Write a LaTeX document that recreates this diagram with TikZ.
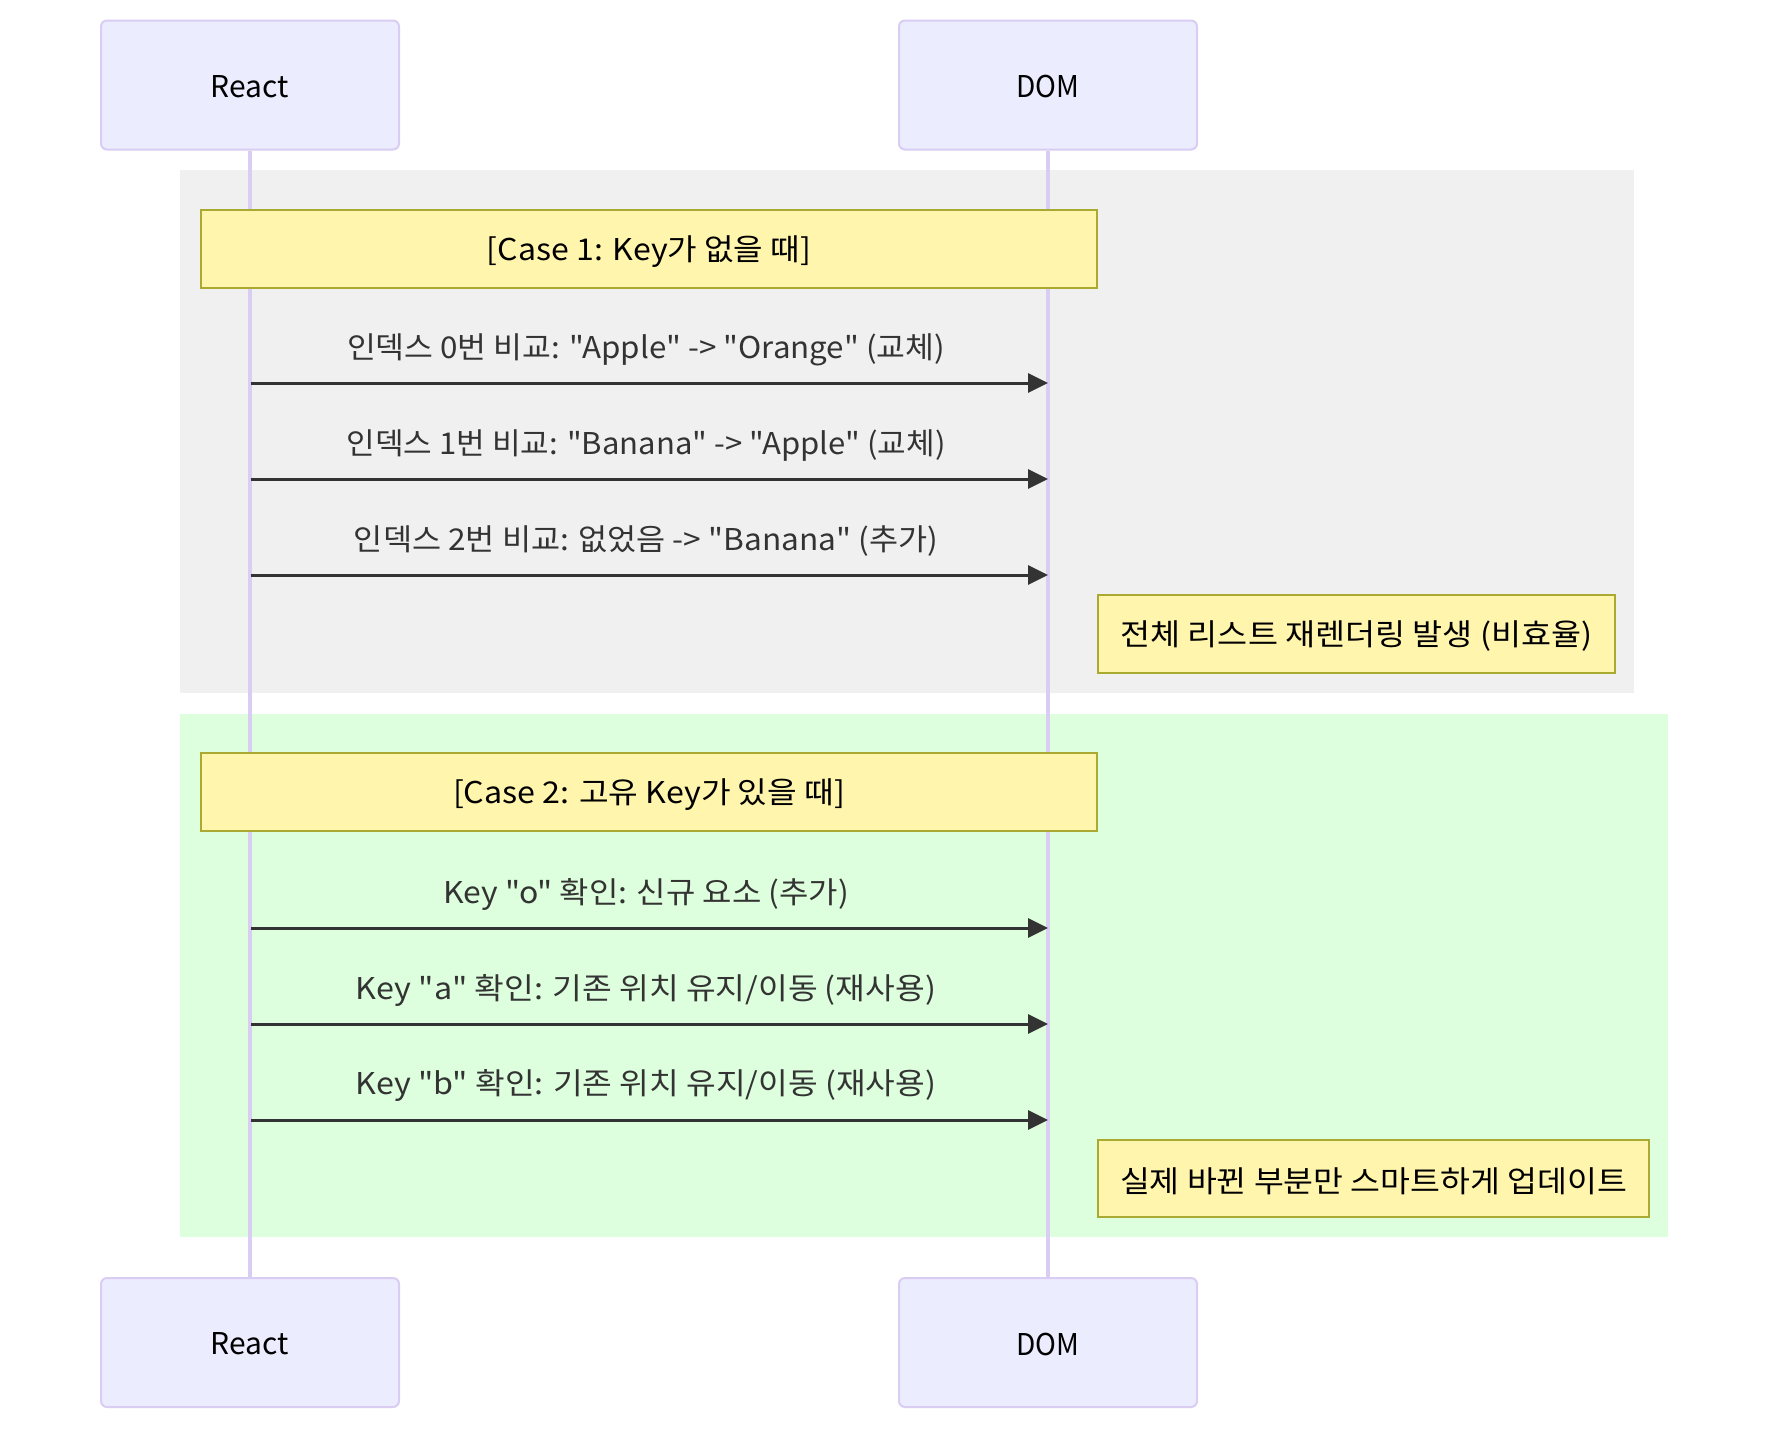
\documentclass[tikz,border=0pt]{standalone}
\usepackage{fontspec}
\setmainfont{Noto Sans CJK KR}[Ligatures=TeXOff]
\usepackage{graphicx}
\usetikzlibrary{arrows.meta}
\definecolor{actorfill}{HTML}{ECECFF}
\definecolor{actorline}{HTML}{D9CDF3}
\definecolor{loopgrey}{HTML}{F0F0F0}
\definecolor{loopgreen}{HTML}{DDFFDD}
\definecolor{notefill}{HTML}{FFF5AD}
\definecolor{noteline}{HTML}{AAAA33}
\definecolor{msgcol}{HTML}{333333}
\newcommand{\fitw}[2]{\resizebox{#1}{\height}{#2}}
\begin{document}
\begin{tikzpicture}[x=1pt,y=-1pt,
  actorbox/.style={draw=actorline,fill=actorfill,line width=2pt,rounded corners=6pt,
    minimum width=298pt,minimum height=129pt,inner sep=0pt},
  actortext/.style={font=\fontsize{30pt}{36pt}\selectfont,text=black,inner sep=0pt,yshift=-1.5pt},
  lifeline/.style={draw=actorline,line width=3.5pt},
  notebox/.style={draw=noteline,fill=notefill,line width=2pt,inner sep=0pt},
  notetext/.style={font=\fontsize{30pt}{36pt}\selectfont,text=black,inner sep=0pt,yshift=-2.5pt},
  msgtext/.style={font=\fontsize{30pt}{36pt}\selectfont,text=msgcol,inner sep=0pt},
  msg/.style={draw=msgcol,line width=3pt,-{Triangle[length=20pt,width=19pt]}}]
\useasboundingbox[fill=white] (0,0) rectangle (1768,1430);
% loop backgrounds
\fill[loopgrey] (180,170) rectangle (1634,693);
\fill[loopgreen] (180,714) rectangle (1668,1237);
% actors
\node[actorbox] (rt) at (250,85) {};
\node[actorbox] (dt) at (1048,85) {};
\node[actorbox] (rb) at (250,1342.5) {};
\node[actorbox] (db) at (1048,1342.5) {};
\node[actortext] (rtl) at (rt.center) {\fitw{78pt}{React}};
\node[actortext] (dtl) at (dt.center) {\fitw{63pt}{DOM}};
\node[actortext] (rbl) at (rb.center) {\fitw{78pt}{React}};
\node[actortext] (dbl) at (db.center) {\fitw{63pt}{DOM}};
\draw[lifeline] (rt.south) -- (rb.north);
\draw[lifeline] (dt.south) -- (db.north);
% case 1
\node[notebox,minimum width=896pt,minimum height=78pt] (c1) at (649,249) {};
\node[notetext] (c1l) at (c1.center) {\fitw{324pt}{[Case 1: Key가 없을 때]}};
\coordinate (r1) at (251,383); \coordinate (d1) at (1048,383);
\coordinate (r2) at (251,479); \coordinate (d2) at (1048,479);
\coordinate (r3) at (251,575); \coordinate (d3) at (1048,575);
\node[msgtext] (t1) at (646,349.5) {\fitw{598pt}{인덱스 0번 비교: "Apple" -> "Orange" (교체)}};
\node[msgtext] (t2) at (646,445.5) {\fitw{599pt}{인덱스 1번 비교: "Banana" -> "Apple" (교체)}};
\node[msgtext] (t3) at (646,541.5) {\fitw{584pt}{인덱스 2번 비교: 없었음 -> "Banana" (추가)}};
\draw[msg] (r1) -- (d1);
\draw[msg] (r2) -- (d2);
\draw[msg] (r3) -- (d3);
\node[notebox,minimum width=517pt,minimum height=78pt] (n1) at (1356.5,634) {};
\node[notetext] (n1l) at (n1.center) {\fitw{472pt}{전체 리스트 재렌더링 발생 (비효율)}};
% case 2
\node[notebox,minimum width=896pt,minimum height=78pt] (c2) at (649,792) {};
\node[notetext] (c2l) at (c2.center) {\fitw{392pt}{[Case 2: 고유 Key가 있을 때]}};
\coordinate (r4) at (251,928); \coordinate (d4) at (1048,928);
\coordinate (r5) at (251,1024); \coordinate (d5) at (1048,1024);
\coordinate (r6) at (251,1120); \coordinate (d6) at (1048,1120);
\node[msgtext] (t4) at (646,894.5) {\fitw{406pt}{Key "o" 확인: 신규 요소 (추가)}};
\node[msgtext] (t5) at (646,990.5) {\fitw{580pt}{Key "a" 확인: 기존 위치 유지/이동 (재사용)}};
\node[msgtext] (t6) at (646,1085.5) {\fitw{580pt}{Key "b" 확인: 기존 위치 유지/이동 (재사용)}};
\draw[msg] (r4) -- (d4);
\draw[msg] (r5) -- (d5);
\draw[msg] (r6) -- (d6);
\node[notebox,minimum width=551pt,minimum height=77pt] (n2) at (1373.5,1178.5) {};
\node[notetext] (n2l) at (n2.center) {\fitw{507pt}{실제 바뀐 부분만 스마트하게 업데이트}};
\end{tikzpicture}
\end{document}
